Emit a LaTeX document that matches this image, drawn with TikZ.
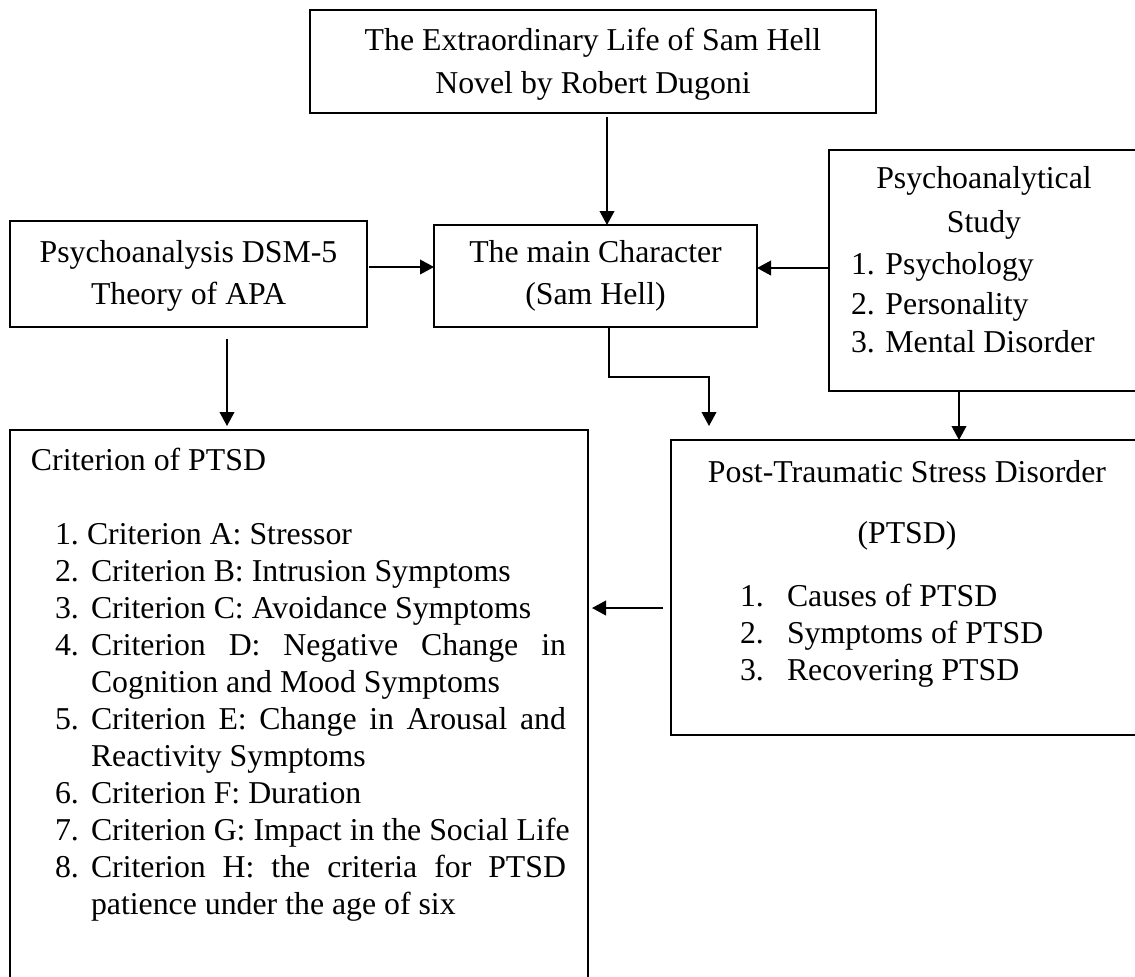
\documentclass[tikz,border=0pt]{standalone}
\usepackage{fontspec}
\setmainfont{Liberation Serif}
\usetikzlibrary{arrows.meta,fit,calc}
\newcommand{\dfont}{\fontsize{23.85pt}{27.75pt}\selectfont}
\tikzset{
  boxnode/.style={draw, line width=1.6pt, inner sep=0pt, outer sep=0pt},
  txt/.style={inner sep=0pt, outer sep=0pt, font=\dfont, anchor=base},
  txtl/.style={inner sep=0pt, outer sep=0pt, font=\dfont, anchor=base west},
  arr/.style={line width=1.3pt, -{Triangle[length=10.5pt,width=11pt]}}
}
\begin{document}
\begin{tikzpicture}[x=0.75pt,y=-0.75pt]
\useasboundingbox (0,0) rectangle (1135,976);
\clip (0,0) rectangle (1135,976);
% boxes
\node[boxnode, fit={(310,10) (876,113)}] (top) {};
\node[boxnode, fit={(10,221) (367,327)}] (left) {};
\node[boxnode, fit={(434,225) (757,327)}] (main) {};
\node[boxnode, fit={(829,150) (1150,391)}] (right) {};
\node[boxnode, fit={(10,430) (588,995)}] (crit) {};
\node[boxnode, fit={(671,440) (1150,735)}] (ptsd) {};
% connectors
\draw[arr] ($(top.south west)+(297,4)$) coordinate (a1) -- (a1 |- main.north);
\draw[arr] ($(left.north east)+(2,46)$) coordinate (a2) -- (a2 -| main.west);
\draw[arr] ($(right.north west)+(0,118)$) coordinate (a3) -- (a3 -| main.east);
\draw[arr] ($(main.south west)+(175,0)$) -- ++(0,50) -| ($(ptsd.north west)+(38,-14)$);
\draw[arr] ($(right.south west)+(130,0)$) coordinate (a5) -- (a5 |- ptsd.north);
\draw[arr] ($(left.south west)+(217,12)$) coordinate (a6) -- ($(a6 |- crit.north)+(0,-4)$);
\draw[arr] ($(ptsd.north west)+(-8,168)$) coordinate (a7) -- ($(a7 -| crit.east)+(4,0)$);
% top box text
\node[txt] (t1) at (593,50) {The Extraordinary Life of Sam Hell};
\node[txt] (t2) at (593,93) {Novel by Robert Dugoni};
% left box text
\node[txt] (l1) at (188.5,262) {Psychoanalysis DSM-5};
\node[txt] (l2) at (188.5,304) {Theory of APA};
% main box text
\node[txt] (m1) at (595.5,262) {The main Character};
\node[txt] (m2) at (595.5,304) {(Sam Hell)};
% right box text
\node[txt] (r1) at (984,188) {Psychoanalytical};
\node[txt] (r2) at (984,232) {Study};
\node[txtl] (r3) at (851,274) {1. Psychology};
\node[txtl] (r4) at (851,314) {2. Personality};
\node[txtl] (r5) at (851,352) {3. Mental Disorder};
% ptsd box text
\node[txt] (p1) at (907,482) {Post-Traumatic Stress Disorder};
\node[txt] (p2) at (907,543) {(PTSD)};
\node[txtl] (p3n) at (740,606) {1.};
\node[txtl] (p3) at (787,606) {Causes of PTSD};
\node[txtl] (p4n) at (740,643) {2.};
\node[txtl] (p4) at (787,643) {Symptoms of PTSD};
\node[txtl] (p5n) at (740,680) {3.};
\node[txtl] (p5) at (787,680) {Recovering PTSD};
% criterion box text
\node[txtl] (c0) at (31,470) {Criterion of PTSD};
\node[txtl] (c1n) at (55,544) {1.};
\node[txtl] (c1) at (87,544) {Criterion A: Stressor};
\node[txtl] (c2n) at (55,581) {2.};
\node[txtl] (c2) at (91,581) {Criterion B: Intrusion Symptoms};
\node[txtl] (c3n) at (55,618) {3.};
\node[txtl] (c3) at (91,618) {Criterion C: Avoidance Symptoms};
\node[txtl] (c4n) at (55,655) {4.};
\node[txtl] (c4) at (91,655) {\makebox[356.25pt][s]{Criterion D: Negative Change in}};
\node[txtl] (c4b) at (91,692) {Cognition and Mood Symptoms};
\node[txtl] (c5n) at (55,729) {5.};
\node[txtl] (c5) at (91,729) {\makebox[356.25pt][s]{Criterion E: Change in Arousal and}};
\node[txtl] (c5b) at (91,766) {Reactivity Symptoms};
\node[txtl] (c6n) at (55,803) {6.};
\node[txtl] (c6) at (91,803) {Criterion F: Duration};
\node[txtl] (c7n) at (55,840) {7.};
\node[txtl] (c7) at (91,840) {Criterion G: Impact in the Social Life};
\node[txtl] (c8n) at (55,877) {8.};
\node[txtl] (c8) at (91,877) {\makebox[356.25pt][s]{Criterion H: the criteria for PTSD}};
\node[txtl] (c8b) at (91,914) {patience under the age of six};
\end{tikzpicture}
\end{document}
